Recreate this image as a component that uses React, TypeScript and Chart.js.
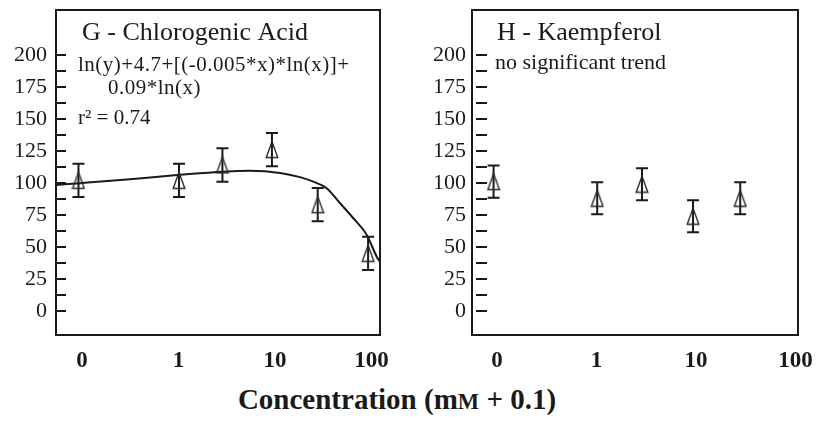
import React, { useEffect, useRef } from 'react';
import { Chart, registerables } from 'chart.js';

Chart.register(...registerables);

// ---- axis ticks ----
const xTickValues = [0.1, 1, 10, 100];
const xTickLabels = ['0', '1', '10', '100'];
const yTickValues = [0, 12.5, 25, 37.5, 50, 62.5, 75, 87.5, 100, 112.5, 125, 137.5, 150, 162.5, 175, 187.5, 200];
const yLabeledValues = [0, 25, 50, 75, 100, 125, 150, 175, 200];

// ---- panel G: Chlorogenic Acid (x = concentration mM + 0.1) ----
const concG = [0.1, 1.1, 3.1, 10.1, 30.1, 100.1];
const meanG = [102, 102, 114, 126, 83, 45];
const errG = [13, 13, 13, 13, 13, 13];
const fitX = [0.0594, 0.104, 0.342, 1.127, 3.14, 5.98, 12.25, 19.7, 27.1, 37.3, 51.3, 70.4, 97, 123, 133];
const fitY = [98.4, 99.8, 102.9, 106.3, 108.8, 109.4, 107.8, 104.5, 101, 95.9, 84.1, 72.4, 59.4, 42.4, 38.3];

// ---- panel H: Kaempferol ----
const concH = [0.1, 1.1, 3.1, 10.1, 30.1];
const meanH = [101, 88, 99, 74, 88];
const errH = [12.5, 12.5, 12.5, 12.5, 12.5];

const INK = '#1a1a1a';
const SERIF = "'Liberation Serif', 'Times New Roman', serif";

function makeTriangle(): HTMLCanvasElement {
  const c = document.createElement('canvas');
  c.width = 14;
  c.height = 19;
  const ctx = c.getContext('2d')!;
  ctx.strokeStyle = '#2a2a2a';
  ctx.lineWidth = 1.4;
  ctx.beginPath();
  ctx.moveTo(7, 1.5);
  ctx.lineTo(12.8, 17.5);
  ctx.lineTo(1.2, 17.5);
  ctx.closePath();
  ctx.stroke();
  return c;
}

type TextItem = { text: string; x: number; y: number; size: number; spacing?: number };

type PanelCfg = {
  xs: number[];
  means: number[];
  errs: number[];
  fitX?: number[];
  fitY?: number[];
  xMin: number;
  xMax: number;
  yWidth: number;
  yPad: number;
  padRight: number;
  tickStart: number;
  tickEnd: number;
  texts: TextItem[];
};

function buildChart(canvas: HTMLCanvasElement, cfg: PanelCfg) {
  const tri = makeTriangle();
  const panelPlugin = {
    id: 'panelDecor',
    beforeDatasetsDraw(chart: any) {
      const ctx = chart.ctx;
      const xs = chart.scales.x;
      const ys = chart.scales.y;
      ctx.save();
      ctx.strokeStyle = INK;
      ctx.lineWidth = 2;
      cfg.xs.forEach((xv, i) => {
        const px = xs.getPixelForValue(xv);
        const top = ys.getPixelForValue(cfg.means[i] + cfg.errs[i]);
        const bot = ys.getPixelForValue(cfg.means[i] - cfg.errs[i]);
        ctx.beginPath();
        ctx.moveTo(px, top);
        ctx.lineTo(px, bot);
        ctx.moveTo(px - 6, top);
        ctx.lineTo(px + 6, top);
        ctx.moveTo(px - 6, bot);
        ctx.lineTo(px + 6, bot);
        ctx.stroke();
      });
      ctx.restore();
    },
    afterDraw(chart: any) {
      const ctx = chart.ctx;
      const a = chart.chartArea;
      const ys = chart.scales.y;
      ctx.save();
      ctx.strokeStyle = INK;
      ctx.lineWidth = 2;
      ctx.strokeRect(a.left, a.top, a.right - a.left, a.bottom - a.top);
      ctx.beginPath();
      yTickValues.forEach((v) => {
        const py = Math.round(ys.getPixelForValue(v));
        ctx.moveTo(a.left + cfg.tickStart, py);
        ctx.lineTo(a.left + cfg.tickEnd, py);
      });
      ctx.stroke();
      ctx.fillStyle = INK;
      ctx.textBaseline = 'middle';
      ctx.textAlign = 'left';
      cfg.texts.forEach((t) => {
        ctx.font = `${t.size}px ${SERIF}`;
        (ctx as any).letterSpacing = `${t.spacing || 0}px`;
        ctx.fillText(t.text, t.x, t.y);
      });
      ctx.restore();
    },
  };

  const datasets: any[] = [
    {
      label: 'mean',
      data: cfg.xs.map((x, i) => ({ x, y: cfg.means[i] })),
      showLine: false,
      pointStyle: tri,
      pointRadius: 7,
      pointHoverRadius: 7,
    },
  ];
  if (cfg.fitX && cfg.fitY) {
    datasets.push({
      label: 'fit',
      data: cfg.fitX.map((x, i) => ({ x, y: cfg.fitY![i] })),
      showLine: true,
      borderColor: INK,
      borderWidth: 2,
      pointRadius: 0,
      tension: 0.4,
      cubicInterpolationMode: 'monotone',
    });
  }

  return new Chart(canvas, {
    type: 'scatter',
    data: { datasets },
    options: {
      responsive: false,
      animation: false,
      layout: { padding: { top: 10, right: cfg.padRight, left: 0, bottom: 0 } },
      plugins: { legend: { display: false }, tooltip: { enabled: false } },
      scales: {
        x: {
          type: 'logarithmic',
          min: cfg.xMin,
          max: cfg.xMax,
          grid: { display: false, drawTicks: false },
          border: { display: false },
          ticks: {
            autoSkip: false,
            maxRotation: 0,
            padding: 12,
            labelOffset: 3.5,
            color: INK,
            font: { family: SERIF, size: 23, weight: 'bold' },
            callback: (_v: any, i: number) => xTickLabels[i],
          },
          afterBuildTicks: (s: any) => {
            s.ticks = xTickValues.map((v) => ({ value: v }));
          },
          afterFit: (s: any) => {
            s.height = 45;
            s.paddingLeft = 0;
            s.paddingRight = 0;
          },
        },
        y: {
          type: 'linear',
          min: -18.75,
          max: 235,
          grid: { display: false, drawTicks: false },
          border: { display: false },
          ticks: {
            autoSkip: false,
            padding: cfg.yPad,
            color: INK,
            font: { family: SERIF, size: 22 },
            callback: (v: any) => (yLabeledValues.includes(Number(v)) ? String(v) : ''),
          },
          afterBuildTicks: (s: any) => {
            s.ticks = yTickValues.map((v) => ({ value: v }));
          },
          afterFit: (s: any) => {
            s.width = cfg.yWidth;
            s.paddingTop = 0;
            s.paddingBottom = 0;
          },
        },
      },
    } as any,
    plugins: [panelPlugin],
  });
}

export default function App() {
  const leftRef = useRef<HTMLCanvasElement>(null);
  const rightRef = useRef<HTMLCanvasElement>(null);

  useEffect(() => {
    const left = buildChart(leftRef.current!, {
      xs: concG,
      means: meanG,
      errs: errG,
      fitX,
      fitY,
      xMin: 0.0585,
      xMax: 133,
      yWidth: 56,
      yPad: 9,
      padRight: 25,
      tickStart: 0,
      tickEnd: 10,
      texts: [
        { text: 'G - Chlorogenic Acid', x: 82, y: 33, size: 26 },
        { text: 'ln(y)+4.7+[(-0.005*x)*ln(x)]+', x: 78, y: 65, size: 21, spacing: 0.5 },
        { text: '0.09*ln(x)', x: 108, y: 88, size: 21, spacing: 0.5 },
        { text: 'r² = 0.74', x: 78, y: 118, size: 21 },
      ],
    });
    const right = buildChart(rightRef.current!, {
      xs: concH,
      means: meanH,
      errs: errH,
      xMin: 0.0607,
      xMax: 114.6,
      yWidth: 62,
      yPad: 6,
      padRight: 20,
      tickStart: 4,
      tickEnd: 15,
      texts: [
        { text: 'H - Kaempferol', x: 87, y: 33, size: 26 },
        { text: 'no significant trend', x: 85, y: 63, size: 22 },
      ],
    });
    return () => {
      left.destroy();
      right.destroy();
    };
  }, []);

  return (
    <div style={{ position: 'absolute', left: 0, top: 0, width: 818, height: 426, background: '#fff', overflow: 'hidden' }}>
      <canvas ref={leftRef} width={405} height={380} style={{ position: 'absolute', left: 0, top: 0 }} />
      <canvas ref={rightRef} width={408} height={380} style={{ position: 'absolute', left: 410, top: 0 }} />
      <div
        style={{
          position: 'absolute',
          left: 0,
          width: 794,
          top: 385,
          textAlign: 'center',
          fontFamily: SERIF,
          fontWeight: 'bold',
          fontSize: 29,
          lineHeight: '29px',
          color: INK,
        }}
      >
        Concentration (m<span style={{ fontSize: '0.78em' }}>M</span> + 0.1)
      </div>
    </div>
  );
}
